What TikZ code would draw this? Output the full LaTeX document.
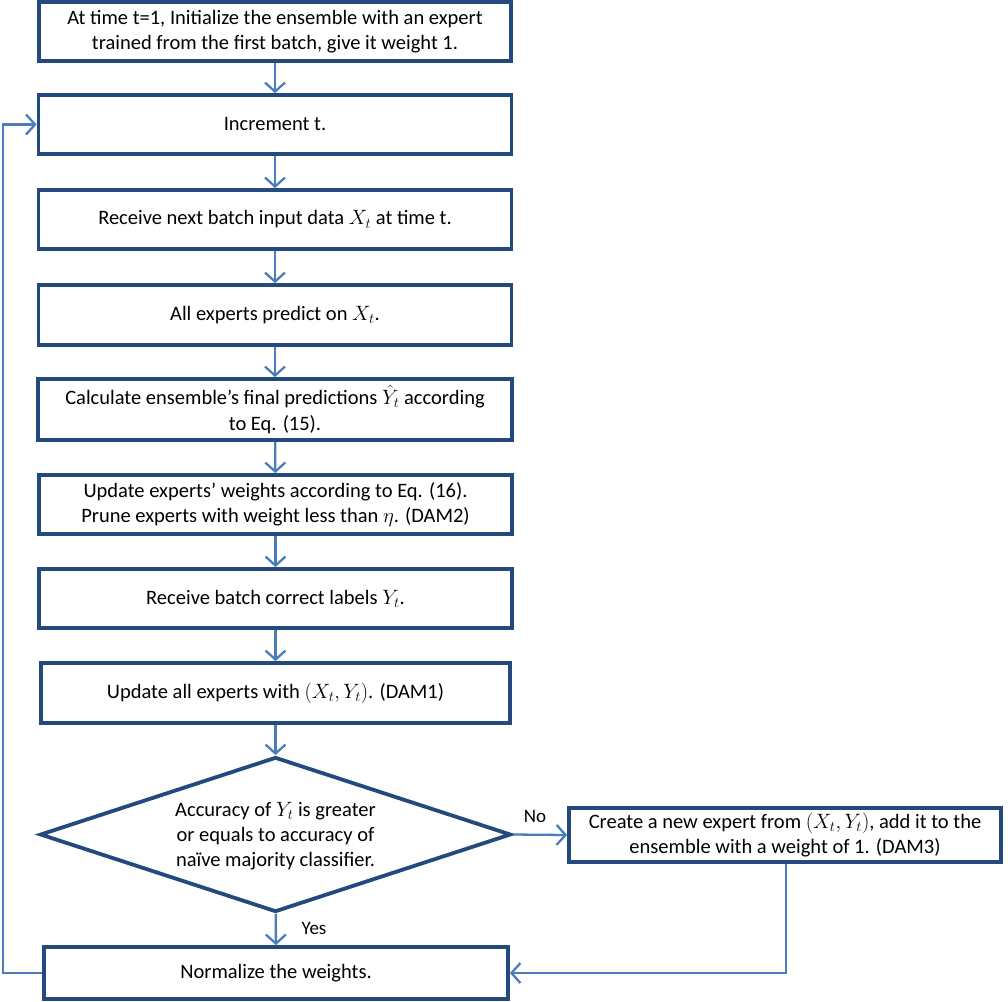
\documentclass[tikz,border=0pt]{standalone}
\usepackage{fontspec}
\setmainfont{Carlito}
\usetikzlibrary{shapes.geometric,arrows.meta}
\definecolor{boxc}{HTML}{24497D}
\definecolor{arrc}{HTML}{4A7EBB}
\begin{document}
\begin{tikzpicture}[x=1pt,y=-1pt,
  font=\fontsize{20.5}{25}\selectfont,
  stepbox/.style={draw=boxc,line width=3.8pt,rectangle,inner sep=0pt,align=center,text=black},
  decision/.style={draw=boxc,line width=3.8pt,diamond,inner sep=0pt,aspect=3,align=center},
  conn/.style={draw=arrc,line width=2.3pt,-{Straight Barb[length=9pt,width=20pt,line width=2.3pt]}},
  lbl/.style={font=\fontsize{19}{22}\selectfont,inner sep=0pt}]
\useasboundingbox (0,0) rectangle (1008,1001);
\node[stepbox,minimum width=472pt,minimum height=59pt] (b1) at (275,31.5)
  {At time t=1, Initialize the ensemble with an expert\\trained from the first batch, give it weight 1.};
\node[stepbox,minimum width=473pt,minimum height=59pt] (b2) at (275,124.5) {Increment t.};
\node[stepbox,minimum width=473pt,minimum height=59pt] (b3) at (275,219.5) {Receive next batch input data $X_t$ at time t.};
\node[stepbox,minimum width=473pt,minimum height=60pt] (b4) at (275,315) {All experts predict on $X_t$.};
\node[stepbox,minimum width=474pt,minimum height=61pt] (b5) at (275,409.5)
  {Calculate ensemble’s final predictions $\hat{Y}_t$ according\\[1pt]to Eq. (15).};
\node[stepbox,minimum width=473pt,minimum height=59pt] (b6) at (275.5,504.5)
  {Update experts’ weights according to Eq. (16).\\Prune experts with weight less than $\eta$. (DAM2)};
\node[stepbox,minimum width=473pt,minimum height=59pt] (b7) at (275.5,598.5) {Receive batch correct labels $Y_t$.};
\node[stepbox,minimum width=469pt,minimum height=60pt] (b8) at (275.5,693) {Update all experts with $(X_t,Y_t)$. (DAM1)};
\node[decision,minimum width=471pt,minimum height=155pt] (d) at (275.5,834.5) {};
\node[align=center,inner sep=0pt] (dt) at (275.5,836)
  {Accuracy of $Y_t$ is greater\\or equals to accuracy of\\naïve majority classifier.};
\node[stepbox,minimum width=432pt,minimum height=54pt] (b9) at (785,835)
  {Create a new expert from $(X_t,Y_t)$, add it to the\\ensemble with a weight of 1. (DAM3)};
\node[stepbox,minimum width=464pt,minimum height=52pt] (b10) at (276,973) {Normalize the weights.};
\node[lbl] (no) at (535,816) {No};
\node[lbl] (yes) at (314,928) {Yes};
\coordinate (c1) at (786,973);
\coordinate (c2) at (3,973);
\coordinate (c3) at (3,124.5);
\draw[conn] (b1) -- (b2);
\draw[conn] (b2) -- (b3);
\draw[conn] (b3) -- (b4);
\draw[conn] (b4) -- (b5);
\draw[conn] (b5) -- (b6);
\draw[conn] (b6) -- (b7);
\draw[conn] (b7) -- (b8);
\draw[conn] (b8) -- (d);
\draw[conn] (d) -- (b10);
\draw[conn] (d.east) -- (b9.west);
\draw[conn] (b9.south -| c1) -- (c1) -- (b10.east);
\draw[conn] (b10.west) -- (c2) -- (c3) -- (b2.west);
\end{tikzpicture}
\end{document}
